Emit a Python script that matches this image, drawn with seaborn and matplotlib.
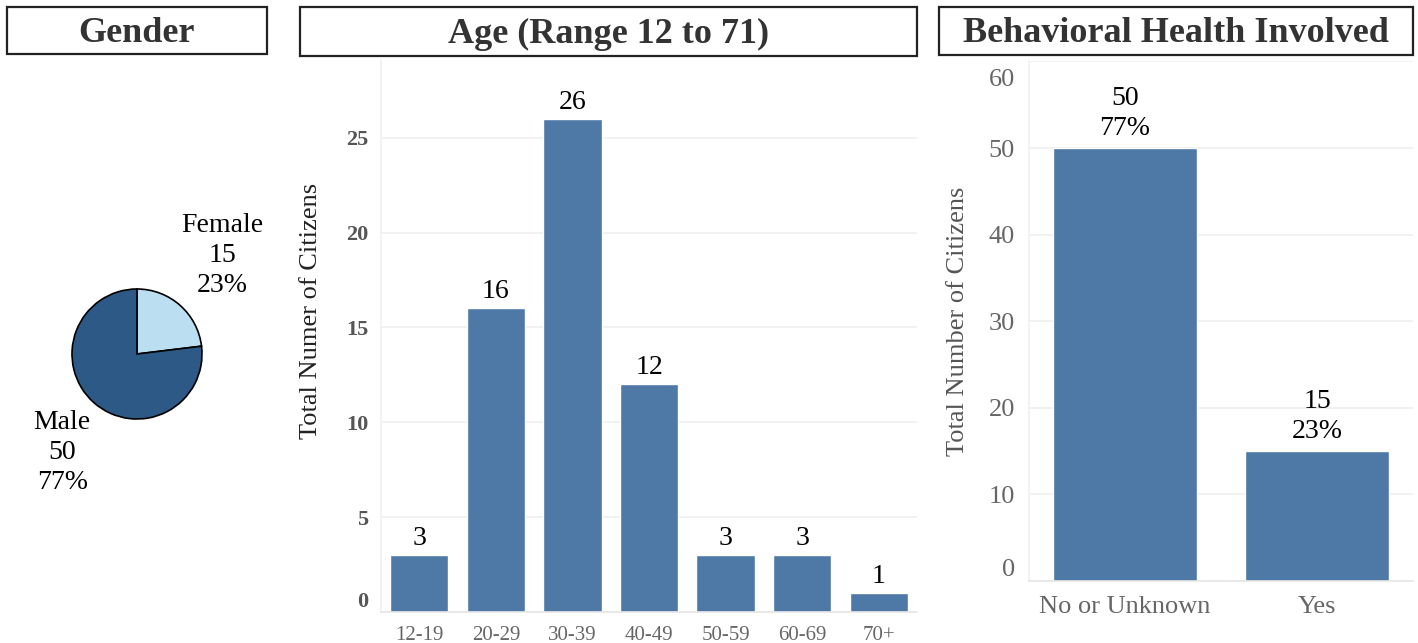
import numpy as np
import pandas as pd
import seaborn as sns
import matplotlib.pyplot as plt
import matplotlib.transforms as mtransforms
from matplotlib.patches import Rectangle

## Data
gender_labels = ["Female", "Male"]
gender_counts = [15, 50]
gender_pct = ["23%", "77%"]

age_groups = ["12-19", "20-29", "30-39", "40-49", "50-59", "60-69", "70+"]
age_counts = [3, 16, 26, 12, 3, 3, 1]

bh_labels = ["No or Unknown", "Yes"]
bh_counts = [50, 15]
bh_pct = ["77%", "23%"]

sns.set_style("white")
plt.rcParams['font.family'] = ['Liberation Serif', 'DejaVu Serif']

W, H = 1418, 643
fig = plt.figure(figsize=(W / 100, H / 100), dpi=100)

def px_axes(l, t, r, b):
    return fig.add_axes([l / W, 1 - b / H, (r - l) / W, (b - t) / H])

bar_color = "#4E79A7"
grid_color = "#EFEFEF"

## Title boxes
for (l, t, r, b), title in [((7, 7, 267, 54), "Gender"),
                            ((300, 7, 917, 56), "Age (Range 12 to 71)"),
                            ((939, 7, 1413, 55), "Behavioral Health Involved")]:
    fig.add_artist(Rectangle((l / W, 1 - b / H), (r - l) / W, (b - t) / H,
                             transform=fig.transFigure, fill=False,
                             edgecolor="#222222", linewidth=1.6))
    fig.text((l + r) / 2 / W, 1 - ((t + b) / 2 + 3) / H, title, ha="center", va="center",
             fontsize=26, fontweight="bold", color="#333333")

## Gender pie
ax_pie = px_axes(72, 289, 202, 419)
ax_pie.pie(gender_counts, colors=["#BBDEF0", "#2C5985"], startangle=90, counterclock=False,
           wedgeprops={"edgecolor": "black", "linewidth": 1.2})
ax_pie.set_xlim(-1, 1)
ax_pie.set_ylim(-1, 1)
ax_pie.set_aspect("equal")
label_pos = {"Female": (1.31, 1.51), "Male": (-1.15, -1.51)}
for lab, cnt, pct in zip(gender_labels, gender_counts, gender_pct):
    x, y = label_pos[lab]
    ax_pie.text(x, y, f"{lab}\n{cnt}\n{pct}", ha="center", va="center", fontsize=20,
                linespacing=1.27, color="black", clip_on=False)

## Age bars
age_df = pd.DataFrame({"age": age_groups, "count": age_counts})
ax_age = px_axes(381, 60, 917, 612)
sns.barplot(data=age_df, x="age", y="count", color=bar_color, saturation=1, width=0.76, ax=ax_age)
ax_age.set_ylim(0, 29.1)
ax_age.set_yticks([0, 5, 10, 15, 20, 25])
for i, v in enumerate(age_counts):
    ax_age.annotate(str(v), (i, v), xytext=(0, 3), textcoords="offset points",
                    ha="center", va="bottom", fontsize=20, color="black")
ax_age.set_xlabel("")
ax_age.set_ylabel("Total Numer of Citizens", fontsize=19, color="#222222")
ax_age.yaxis.set_label_coords(-0.11, 0.545)
ax_age.tick_params(axis="y", length=0, pad=9, labelsize=16, labelcolor="#555555")
for t in ax_age.get_yticklabels():
    t.set_fontweight("bold")
ax_age.get_yticklabels()[0].set_va("bottom")
ax_age.tick_params(axis="x", which="major", length=0, pad=10, labelsize=15, labelcolor="#666666")

## Behavioral health bars
bh_df = pd.DataFrame({"bh": bh_labels, "count": bh_counts})
ax_bh = px_axes(1029, 61, 1413, 581)
sns.barplot(data=bh_df, x="bh", y="count", color=bar_color, saturation=1, width=0.75, ax=ax_bh)
ax_bh.set_ylim(0, 60.05)
ax_bh.set_yticks([0, 10, 20, 30, 40, 50, 60])
for i, (v, p) in enumerate(zip(bh_counts, bh_pct)):
    ax_bh.annotate(f"{v}\n{p}", (i, v), xytext=(0, 5), textcoords="offset points",
                   ha="center", va="bottom", fontsize=20, linespacing=1.27, color="black")
ax_bh.set_xlabel("")
ax_bh.set_ylabel("Total Number of Citizens", fontsize=19, color="#555555", labelpad=14)
ax_bh.tick_params(axis="y", length=0, pad=10, labelsize=19, labelcolor="#666666")
ax_bh.get_yticklabels()[0].set_va("bottom")
top_lab = ax_bh.get_yticklabels()[-1]
top_lab.set_va("top")
top_lab.set_transform(top_lab.get_transform() +
                      mtransforms.ScaledTranslation(0, -8 / 100, fig.dpi_scale_trans))
ax_bh.tick_params(axis="x", which="major", length=0, pad=11, labelsize=19, labelcolor="#666666")

## Tableau-like axis styling
for ax, n in [(ax_age, len(age_groups)), (ax_bh, len(bh_labels))]:
    ax.grid(axis="y", color=grid_color, linewidth=1.2)
    ax.set_axisbelow(True)
    ax.set_xticks(np.arange(-0.5, n), minor=True)
    ax.tick_params(axis="x", which="minor", length=9, width=1.2, color="#E6E6E6")
    for side in ["top", "right"]:
        ax.spines[side].set_visible(False)
    ax.spines["left"].set_color("#F0F0F0")
    ax.spines["bottom"].set_color("#E6E6E6")
    ax.spines["left"].set_linewidth(1.2)
    ax.spines["bottom"].set_linewidth(1.2)

plt.savefig("out.png", dpi=100)
